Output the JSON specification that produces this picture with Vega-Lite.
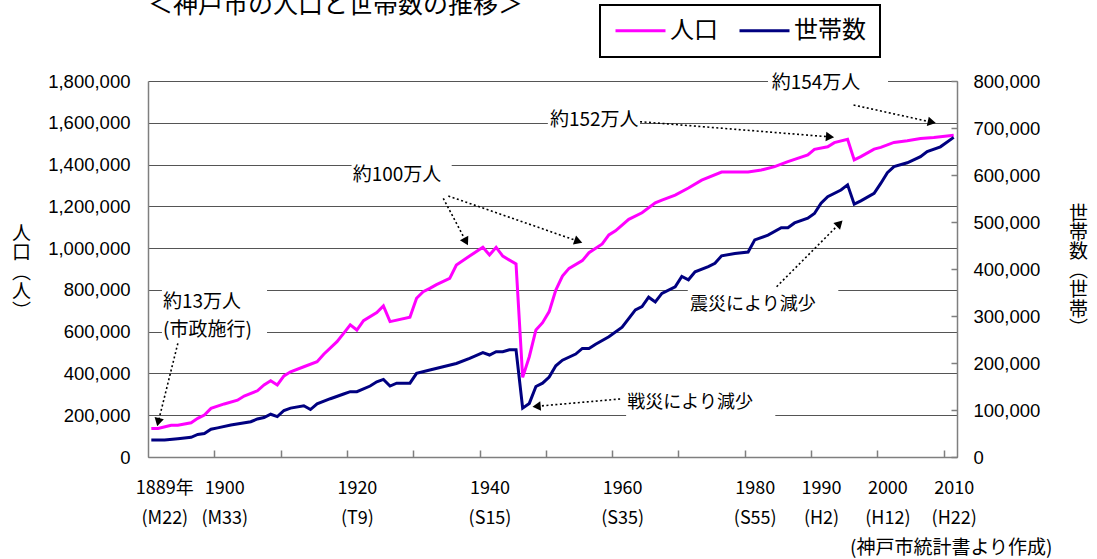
{
  "$schema": "https://vega.github.io/schema/vega-lite/v6.json",
  "width": 809,
  "height": 376,
  "autosize": {"type": "none"},
  "padding": {"left": 148, "top": 81, "right": 140, "bottom": 102},
  "background": "white",
  "title": {"text": "＜神戸市の人口と世帯数の推移＞", "anchor": "start", "frame": "group", "font": "Noto Sans CJK JP", "fontSize": 25, "fontWeight": "normal", "color": "black", "baseline": "alphabetic", "offset": -34},
  "datasets": {
    "series": [
      {"year": 1889, "series": "人口", "value": 136000},
      {"year": 1890, "series": "人口", "value": 137000},
      {"year": 1892, "series": "人口", "value": 152000},
      {"year": 1893, "series": "人口", "value": 152000},
      {"year": 1895, "series": "人口", "value": 164000},
      {"year": 1896, "series": "人口", "value": 185000},
      {"year": 1897, "series": "人口", "value": 201000},
      {"year": 1898, "series": "人口", "value": 233000},
      {"year": 1900, "series": "人口", "value": 254000},
      {"year": 1902, "series": "人口", "value": 272000},
      {"year": 1903, "series": "人口", "value": 292000},
      {"year": 1905, "series": "人口", "value": 317000},
      {"year": 1906, "series": "人口", "value": 345000},
      {"year": 1907, "series": "人口", "value": 365000},
      {"year": 1908, "series": "人口", "value": 345000},
      {"year": 1909, "series": "人口", "value": 388000},
      {"year": 1910, "series": "人口", "value": 408000},
      {"year": 1912, "series": "人口", "value": 432000},
      {"year": 1914, "series": "人口", "value": 456000},
      {"year": 1915, "series": "人口", "value": 492000},
      {"year": 1917, "series": "人口", "value": 552000},
      {"year": 1918, "series": "人口", "value": 592000},
      {"year": 1919, "series": "人口", "value": 633000},
      {"year": 1920, "series": "人口", "value": 608000},
      {"year": 1921, "series": "人口", "value": 653000},
      {"year": 1923, "series": "人口", "value": 691000},
      {"year": 1924, "series": "人口", "value": 723000},
      {"year": 1925, "series": "人口", "value": 648000},
      {"year": 1928, "series": "人口", "value": 669000},
      {"year": 1929, "series": "人口", "value": 760000},
      {"year": 1930, "series": "人口", "value": 791000},
      {"year": 1931, "series": "人口", "value": 807000},
      {"year": 1932, "series": "人口", "value": 825000},
      {"year": 1934, "series": "人口", "value": 855000},
      {"year": 1935, "series": "人口", "value": 919000},
      {"year": 1937, "series": "人口", "value": 962000},
      {"year": 1939, "series": "人口", "value": 1004000},
      {"year": 1940, "series": "人口", "value": 967000},
      {"year": 1941, "series": "人口", "value": 1004000},
      {"year": 1942, "series": "人口", "value": 962000},
      {"year": 1944, "series": "人口", "value": 924000},
      {"year": 1945, "series": "人口", "value": 381000},
      {"year": 1946, "series": "人口", "value": 480000},
      {"year": 1947, "series": "人口", "value": 608000},
      {"year": 1948, "series": "人口", "value": 643000},
      {"year": 1949, "series": "人口", "value": 696000},
      {"year": 1950, "series": "人口", "value": 799000},
      {"year": 1951, "series": "人口", "value": 866000},
      {"year": 1952, "series": "人口", "value": 903000},
      {"year": 1954, "series": "人口", "value": 940000},
      {"year": 1955, "series": "人口", "value": 978000},
      {"year": 1957, "series": "人口", "value": 1020000},
      {"year": 1958, "series": "人口", "value": 1063000},
      {"year": 1959, "series": "人口", "value": 1083000},
      {"year": 1961, "series": "人口", "value": 1138000},
      {"year": 1963, "series": "人口", "value": 1169000},
      {"year": 1965, "series": "人口", "value": 1217000},
      {"year": 1966, "series": "人口", "value": 1230000},
      {"year": 1968, "series": "人口", "value": 1254000},
      {"year": 1970, "series": "人口", "value": 1288000},
      {"year": 1972, "series": "人口", "value": 1325000},
      {"year": 1975, "series": "人口", "value": 1364000},
      {"year": 1979, "series": "人口", "value": 1364000},
      {"year": 1981, "series": "人口", "value": 1374000},
      {"year": 1983, "series": "人口", "value": 1390000},
      {"year": 1985, "series": "人口", "value": 1414000},
      {"year": 1988, "series": "人口", "value": 1446000},
      {"year": 1989, "series": "人口", "value": 1473000},
      {"year": 1991, "series": "人口", "value": 1485000},
      {"year": 1992, "series": "人口", "value": 1505000},
      {"year": 1994, "series": "人口", "value": 1521000},
      {"year": 1995, "series": "人口", "value": 1422000},
      {"year": 1996, "series": "人口", "value": 1438000},
      {"year": 1998, "series": "人口", "value": 1474000},
      {"year": 1999, "series": "人口", "value": 1482000},
      {"year": 2001, "series": "人口", "value": 1506000},
      {"year": 2003, "series": "人口", "value": 1514000},
      {"year": 2005, "series": "人口", "value": 1525000},
      {"year": 2007, "series": "人口", "value": 1530000},
      {"year": 2010, "series": "人口", "value": 1540000},
      {"year": 1889, "series": "世帯数", "value": 36000},
      {"year": 1891, "series": "世帯数", "value": 36000},
      {"year": 1893, "series": "世帯数", "value": 39000},
      {"year": 1895, "series": "世帯数", "value": 42000},
      {"year": 1896, "series": "世帯数", "value": 48000},
      {"year": 1897, "series": "世帯数", "value": 50000},
      {"year": 1898, "series": "世帯数", "value": 59000},
      {"year": 1899, "series": "世帯数", "value": 62000},
      {"year": 1901, "series": "世帯数", "value": 68000},
      {"year": 1904, "series": "世帯数", "value": 75000},
      {"year": 1905, "series": "世帯数", "value": 81000},
      {"year": 1906, "series": "世帯数", "value": 84000},
      {"year": 1907, "series": "世帯数", "value": 91000},
      {"year": 1908, "series": "世帯数", "value": 86000},
      {"year": 1909, "series": "世帯数", "value": 99000},
      {"year": 1910, "series": "世帯数", "value": 104000},
      {"year": 1912, "series": "世帯数", "value": 109000},
      {"year": 1913, "series": "世帯数", "value": 101000},
      {"year": 1914, "series": "世帯数", "value": 113000},
      {"year": 1916, "series": "世帯数", "value": 124000},
      {"year": 1918, "series": "世帯数", "value": 134000},
      {"year": 1919, "series": "世帯数", "value": 139000},
      {"year": 1920, "series": "世帯数", "value": 139000},
      {"year": 1922, "series": "世帯数", "value": 151000},
      {"year": 1923, "series": "世帯数", "value": 160000},
      {"year": 1924, "series": "世帯数", "value": 165000},
      {"year": 1925, "series": "世帯数", "value": 151000},
      {"year": 1926, "series": "世帯数", "value": 157000},
      {"year": 1928, "series": "世帯数", "value": 157000},
      {"year": 1929, "series": "世帯数", "value": 178000},
      {"year": 1931, "series": "世帯数", "value": 185000},
      {"year": 1933, "series": "世帯数", "value": 192000},
      {"year": 1935, "series": "世帯数", "value": 199000},
      {"year": 1937, "series": "世帯数", "value": 210000},
      {"year": 1939, "series": "世帯数", "value": 222000},
      {"year": 1940, "series": "世帯数", "value": 217000},
      {"year": 1941, "series": "世帯数", "value": 224000},
      {"year": 1942, "series": "世帯数", "value": 224000},
      {"year": 1943, "series": "世帯数", "value": 228000},
      {"year": 1944, "series": "世帯数", "value": 228000},
      {"year": 1945, "series": "世帯数", "value": 104000},
      {"year": 1946, "series": "世帯数", "value": 114000},
      {"year": 1947, "series": "世帯数", "value": 150000},
      {"year": 1948, "series": "世帯数", "value": 157000},
      {"year": 1949, "series": "世帯数", "value": 170000},
      {"year": 1950, "series": "世帯数", "value": 194000},
      {"year": 1951, "series": "世帯数", "value": 206000},
      {"year": 1953, "series": "世帯数", "value": 219000},
      {"year": 1954, "series": "世帯数", "value": 231000},
      {"year": 1955, "series": "世帯数", "value": 231000},
      {"year": 1956, "series": "世帯数", "value": 240000},
      {"year": 1958, "series": "世帯数", "value": 256000},
      {"year": 1960, "series": "世帯数", "value": 276000},
      {"year": 1962, "series": "世帯数", "value": 313000},
      {"year": 1963, "series": "世帯数", "value": 320000},
      {"year": 1964, "series": "世帯数", "value": 340000},
      {"year": 1965, "series": "世帯数", "value": 330000},
      {"year": 1966, "series": "世帯数", "value": 348000},
      {"year": 1968, "series": "世帯数", "value": 362000},
      {"year": 1969, "series": "世帯数", "value": 384000},
      {"year": 1970, "series": "世帯数", "value": 377000},
      {"year": 1971, "series": "世帯数", "value": 394000},
      {"year": 1973, "series": "世帯数", "value": 405000},
      {"year": 1974, "series": "世帯数", "value": 412000},
      {"year": 1975, "series": "世帯数", "value": 428000},
      {"year": 1977, "series": "世帯数", "value": 433000},
      {"year": 1979, "series": "世帯数", "value": 436000},
      {"year": 1980, "series": "世帯数", "value": 462000},
      {"year": 1982, "series": "世帯数", "value": 472000},
      {"year": 1984, "series": "世帯数", "value": 488000},
      {"year": 1985, "series": "世帯数", "value": 488000},
      {"year": 1986, "series": "世帯数", "value": 498000},
      {"year": 1988, "series": "世帯数", "value": 508000},
      {"year": 1989, "series": "世帯数", "value": 518000},
      {"year": 1990, "series": "世帯数", "value": 540000},
      {"year": 1991, "series": "世帯数", "value": 554000},
      {"year": 1993, "series": "世帯数", "value": 568000},
      {"year": 1994, "series": "世帯数", "value": 579000},
      {"year": 1995, "series": "世帯数", "value": 538000},
      {"year": 1996, "series": "世帯数", "value": 545000},
      {"year": 1998, "series": "世帯数", "value": 561000},
      {"year": 1999, "series": "世帯数", "value": 582000},
      {"year": 2000, "series": "世帯数", "value": 605000},
      {"year": 2001, "series": "世帯数", "value": 618000},
      {"year": 2003, "series": "世帯数", "value": 626000},
      {"year": 2005, "series": "世帯数", "value": 639000},
      {"year": 2006, "series": "世帯数", "value": 650000},
      {"year": 2008, "series": "世帯数", "value": 660000},
      {"year": 2010, "series": "世帯数", "value": 680000}
    ],
    "boxes": [
      {"x1": 1890.6, "x2": 1906.45, "y1": 833000, "y2": 536000},
      {"x1": 1919.2, "x2": 1934.3, "y1": 1422000, "y2": 1278000},
      {"x1": 1948.8, "x2": 1962.7, "y1": 1661000, "y2": 1551000},
      {"x1": 1982.0, "x2": 2000.1, "y1": 1852000, "y2": 1733000},
      {"x1": 1969.9, "x2": 1992.6, "y1": 814000, "y2": 646000},
      {"x1": 1960.6, "x2": 1983.1, "y1": 297000, "y2": 177000}
    ],
    "arrows": [
      {"x1": 1893.0, "y1": 544000, "hx": 1890.04, "hy": 166600, "angle": 194},
      {"x1": 1933.03, "y1": 1238500, "hx": 1936.46, "hy": 1031200, "angle": 152},
      {"x1": 1933.79, "y1": 1249500, "hx": 1953.4, "hy": 1032600, "angle": 109},
      {"x1": 1962.7, "y1": 1605200, "hx": 1991.35, "hy": 1532400, "angle": 95},
      {"x1": 1994.9, "y1": 1685100, "hx": 2006.7, "hy": 1602800, "angle": 102},
      {"x1": 1983.3, "y1": 815300, "hx": 1992.8, "hy": 1117800, "angle": 45},
      {"x1": 1959.7, "y1": 277700, "hx": 1947.1, "hy": 242700, "angle": 265}
    ],
    "notes": [
      {"label": "約13万人", "year": 1890.76, "value": 742000},
      {"label": "(市政施行)", "year": 1890.76, "value": 608000},
      {"label": "約100万人", "year": 1919.37, "value": 1350000},
      {"label": "約152万人", "year": 1949.12, "value": 1613300},
      {"label": "約154万人", "year": 1982.56, "value": 1789000},
      {"label": "震災により減少", "year": 1970.24, "value": 727700},
      {"label": "戦災により減少", "year": 1960.78, "value": 257100}
    ]
  },
  "layer": [
    {
      "data": {"name": "boxes"},
      "mark": {"type": "rect", "fill": "white"},
      "encoding": {
        "x": {"field": "x1", "type": "quantitative", "axis": null},
        "x2": {"field": "x2"},
        "y": {"field": "y1", "type": "quantitative", "axis": null, "scale": {"domain": [0, 1800000], "nice": false}},
        "y2": {"field": "y2"}
      }
    },
    {
      "data": {"name": "arrows"},
      "mark": {"type": "rule", "color": "black", "strokeWidth": 1.6, "strokeDash": [2, 2.5]},
      "encoding": {
        "x": {"field": "x1", "type": "quantitative", "axis": null},
        "x2": {"field": "hx"},
        "y": {"field": "y1", "type": "quantitative", "axis": null, "scale": {"domain": [0, 1800000], "nice": false}},
        "y2": {"field": "hy"}
      }
    },
    {
      "data": {"name": "arrows"},
      "mark": {"type": "point", "shape": "triangle-up", "filled": true, "color": "black", "size": 90, "opacity": 1},
      "encoding": {
        "x": {"field": "hx", "type": "quantitative", "axis": null},
        "y": {"field": "hy", "type": "quantitative", "axis": null, "scale": {"domain": [0, 1800000], "nice": false}},
        "angle": {"field": "angle", "type": "quantitative", "scale": null}
      }
    },
    {
      "data": {"name": "notes"},
      "mark": {"type": "text", "align": "left", "baseline": "middle", "font": "Noto Sans CJK JP", "color": "black"},
      "encoding": {
        "x": {"field": "year", "type": "quantitative", "axis": null},
        "y": {"field": "value", "type": "quantitative", "axis": null, "scale": {"domain": [0, 1800000], "nice": false}},
        "text": {"field": "label"},
        "size": {"condition": {"test": "indexof(datum.label, '災') >= 0", "value": 18}, "value": 19}
      }
    },
    {
      "data": {"name": "series"},
      "transform": [{"filter": "datum.series == '人口'"}],
      "mark": {"type": "line", "strokeWidth": 3},
      "encoding": {
        "x": {
          "field": "year", "type": "quantitative",
          "scale": {"domain": [1888.5, 2010.5], "nice": false, "zero": false},
          "axis": {"orient": "bottom", "values": [1898.5, 1908.5, 1918.5, 1928.5, 1938.5, 1948.5, 1958.5, 1968.5, 1978.5, 1988.5, 1998.5, 2008.5], "labels": false, "ticks": true, "tickSize": -7, "grid": false, "domain": true, "title": null}
        },
        "y": {
          "field": "value", "type": "quantitative",
          "scale": {"domain": [0, 1800000], "nice": false},
          "axis": {
            "orient": "left", "values": [0, 200000, 400000, 600000, 800000, 1000000, 1200000, 1400000, 1600000, 1800000],
            "labelExpr": "format(datum.value, ',')", "grid": true, "ticks": false, "domain": true, "labelPadding": 18,
            "title": ["人", "口", "︵", "人", "︶"], "titleAngle": 0, "titleX": -127, "titleY": 152,
            "titleAlign": "center", "titleBaseline": "middle", "titleFont": "Noto Sans CJK JP", "titleFontSize": 19, "titleFontWeight": "normal", "titleLineHeight": 19.5
          }
        },
        "color": {
          "field": "series", "type": "nominal",
          "scale": {"domain": ["人口", "世帯数"], "range": ["#FF00FF", "#000080"]},
          "legend": {"orient": "none", "legendX": 452, "legendY": -76, "direction": "horizontal", "title": null}
        }
      }
    },
    {
      "data": {"name": "series"},
      "transform": [{"filter": "datum.series == '世帯数'"}],
      "mark": {"type": "line", "strokeWidth": 3},
      "encoding": {
        "x": {
          "field": "year", "type": "quantitative",
          "axis": {
            "orient": "bottom", "values": [1889, 1900, 1920, 1940, 1960, 1980, 1990, 2000, 2010],
            "labelExpr": "datum.value == 1889 ? ['1889年', '(M22)'] : datum.value == 1900 ? ['1900', '(M33)'] : datum.value == 1920 ? ['1920', '(T9)'] : datum.value == 1940 ? ['1940', '(S15)'] : datum.value == 1960 ? ['1960', '(S35)'] : datum.value == 1980 ? ['1980', '(S55)'] : datum.value == 1990 ? ['1990', '(H2)'] : datum.value == 2000 ? ['2000', '(H12)'] : ['2010', '(H22)']",
            "labelOffset": {"condition": {"test": "datum.value == 1889", "value": 13}, "value": 0},
            "ticks": false, "domain": false, "grid": false, "labelAngle": 0, "labelBaseline": "top", "labelPadding": 22,
            "labelFont": "Noto Sans CJK JP", "labelFontSize": 18, "labelLineHeight": 30, "labelOverlap": false, "labelFlush": false,
            "title": "(神戸市統計書より作成)", "titleX": 904, "titleY": 90, "titleAlign": "right", "titleBaseline": "middle",
            "titleFont": "Noto Sans CJK JP", "titleFontSize": 19, "titleFontWeight": "normal"
          }
        },
        "y": {
          "field": "value", "type": "quantitative",
          "scale": {"domain": [0, 800000], "nice": false},
          "axis": {
            "orient": "right", "values": [0, 100000, 200000, 300000, 400000, 500000, 600000, 700000, 800000],
            "labelExpr": "format(datum.value, ',')", "grid": false, "domain": true, "labelPadding": 22,
            "title": ["世", "帯", "数", "︵", "世", "帯", "︶"], "titleAngle": 0, "titleX": 121, "titleY": 132,
            "titleAlign": "center", "titleBaseline": "middle", "titleFont": "Noto Sans CJK JP", "titleFontSize": 19, "titleFontWeight": "normal", "titleLineHeight": 19.2
          }
        },
        "color": {
          "field": "series", "type": "nominal",
          "scale": {"domain": ["人口", "世帯数"], "range": ["#FF00FF", "#000080"]},
          "legend": {"orient": "none", "legendX": 452, "legendY": -76, "direction": "horizontal", "title": null}
        }
      }
    }
  ],
  "resolve": {"scale": {"y": "independent"}, "axis": {"x": "independent", "y": "independent"}},
  "config": {
    "view": {"stroke": null},
    "axis": {"labelColor": "black", "titleColor": "black", "domainColor": "#7f7f7f", "domainWidth": 1.5, "tickColor": "#7f7f7f", "tickWidth": 1.5, "gridColor": "#555555", "gridWidth": 1},
    "axisY": {"labelFont": "Arial", "labelFontSize": 18.5},
    "axisRight": {"ticks": true, "tickSize": -6},
    "legend": {"strokeColor": "black", "strokeWidth": 2, "fillColor": "white", "padding": 14, "symbolType": "stroke", "symbolSize": 2500, "symbolStrokeWidth": 3, "clipHeight": 23, "labelFont": "Noto Sans CJK JP", "labelFontSize": 24, "labelColor": "black", "labelOffset": 3, "columnPadding": 20}
  }
}
